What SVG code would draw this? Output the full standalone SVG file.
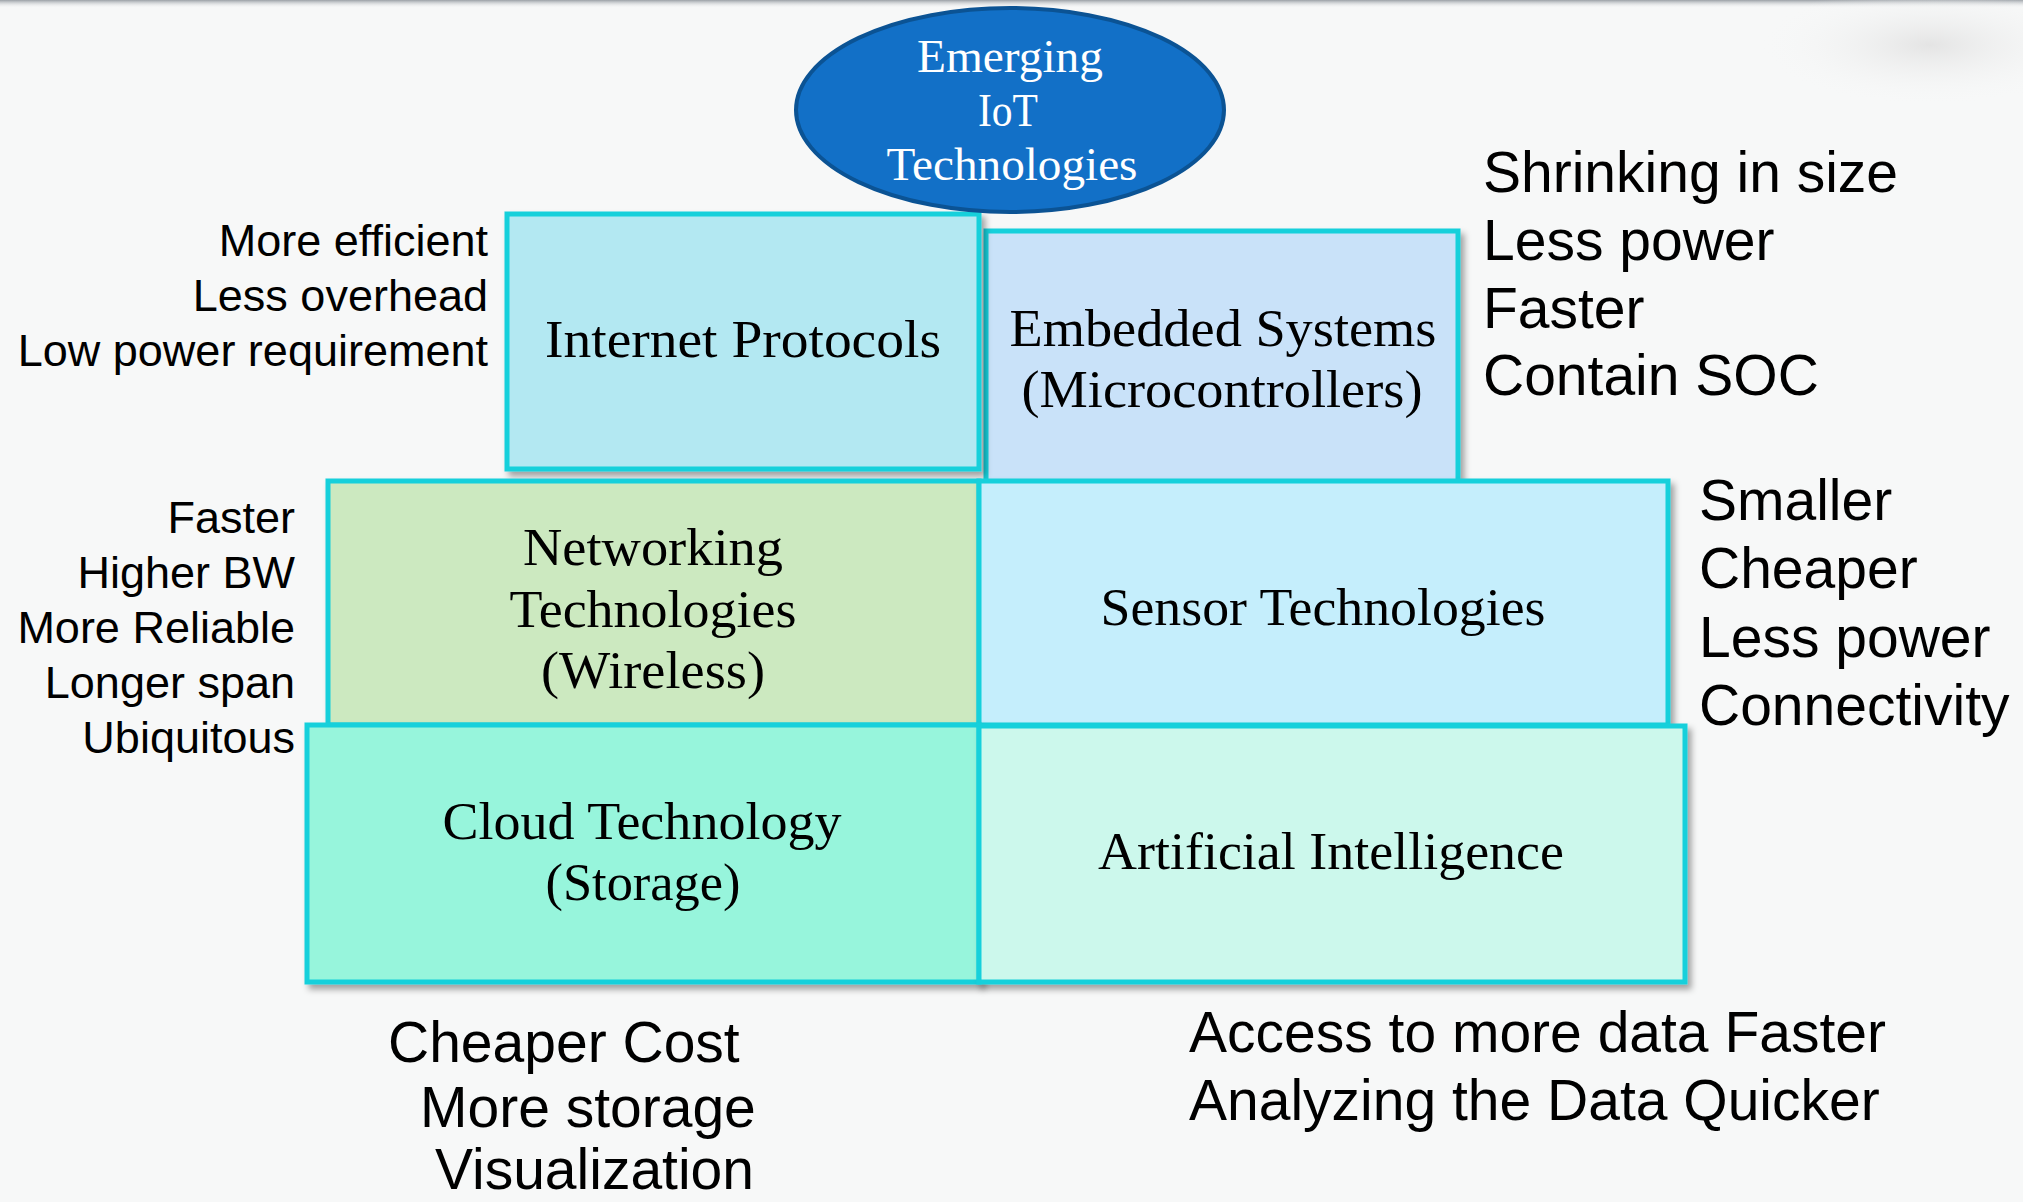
<svg xmlns="http://www.w3.org/2000/svg" width="2023" height="1202" viewBox="0 0 2023 1202">
<style>
.box{stroke:#12d0db;stroke-width:5}
.sans{font-family:"Liberation Sans",Arial,sans-serif;fill:#000}
.s45{font-size:45px}
.s56{font-size:57px}
.serif{font-family:"Liberation Serif","Times New Roman",serif;fill:#000;font-size:52px;text-anchor:middle}
.el{font-family:"Liberation Serif","Times New Roman",serif;fill:#fff;font-size:46px;text-anchor:middle}
.r{text-anchor:end}
</style>
<defs>
<filter id="sh" x="-5%" y="-5%" width="115%" height="115%">
<feDropShadow dx="4" dy="5" stdDeviation="3" flood-color="#000" flood-opacity="0.35"/>
</filter>
<linearGradient id="topg" x1="0" y1="0" x2="0" y2="1">
<stop offset="0" stop-color="#9aa0a6"/>
<stop offset="1" stop-color="#f7f8f8" stop-opacity="0"/>
</linearGradient>
<radialGradient id="corner" cx="0.5" cy="0.5" r="0.5">
<stop offset="0" stop-color="#e4e4e4"/>
<stop offset="1" stop-color="#f7f8f8" stop-opacity="0"/>
</radialGradient>
</defs>
<rect width="2023" height="1202" fill="#f7f8f8"/>
<rect width="2023" height="8" fill="url(#topg)"/>
<ellipse cx="1930" cy="45" rx="170" ry="60" fill="url(#corner)"/>

<g id="embedded-systems">
<rect class="box" x="986" y="231" width="472" height="252" fill="#c9e2f9" filter="url(#sh)"/>
<text class="serif" x="1223" y="346" textLength="427" lengthAdjust="spacingAndGlyphs">Embedded Systems</text>
<text class="serif" x="1222" y="407" textLength="401" lengthAdjust="spacingAndGlyphs">(Microcontrollers)</text>
</g>
<g id="internet-protocols">
<rect class="box" x="507" y="214" width="472" height="255" fill="#b3e8f2" filter="url(#sh)"/>
<text class="serif" x="743" y="357" textLength="396" lengthAdjust="spacingAndGlyphs">Internet Protocols</text>
</g>
<g id="emerging-iot">
<ellipse cx="1010" cy="110" rx="214" ry="102" fill="#1270c7" stroke="#0b5394" stroke-width="4"/>
<text class="el" x="1010" y="72" textLength="186" lengthAdjust="spacingAndGlyphs">Emerging</text>
<text class="el" x="1008" y="126" textLength="60" lengthAdjust="spacingAndGlyphs">IoT</text>
<text class="el" x="1012" y="180" textLength="251" lengthAdjust="spacingAndGlyphs">Technologies</text>
</g>
<g id="networking-technologies">
<rect class="box" x="328" y="481" width="651" height="244" fill="#cce9c0" filter="url(#sh)"/>
<text class="serif" x="653" y="565" textLength="260" lengthAdjust="spacingAndGlyphs">Networking</text>
<text class="serif" x="653" y="627" textLength="287" lengthAdjust="spacingAndGlyphs">Technologies</text>
<text class="serif" x="653" y="688" textLength="224" lengthAdjust="spacingAndGlyphs">(Wireless)</text>
</g>
<g id="sensor-technologies">
<rect class="box" x="979" y="481" width="689" height="244" fill="#c5eefc" filter="url(#sh)"/>
<text class="serif" x="1323" y="625" textLength="445" lengthAdjust="spacingAndGlyphs">Sensor Technologies</text>
</g>
<g id="cloud-technology">
<rect class="box" x="307" y="725" width="672" height="257" fill="#97f5dc" filter="url(#sh)"/>
<text class="serif" x="642" y="839" textLength="399" lengthAdjust="spacingAndGlyphs">Cloud Technology</text>
<text class="serif" x="643" y="900" textLength="195" lengthAdjust="spacingAndGlyphs">(Storage)</text>
</g>
<g id="artificial-intelligence">
<rect class="box" x="979" y="726" width="706" height="256" fill="#ccf8ec" filter="url(#sh)"/>
<text class="serif" x="1331" y="869" textLength="466" lengthAdjust="spacingAndGlyphs">Artificial Intelligence</text>
</g>

<g id="connectors"></g>

<g id="notes">
<text class="sans s45 r" x="488" y="256">More efficient</text>
<text class="sans s45 r" x="488" y="311">Less overhead</text>
<text class="sans s45 r" x="488" y="366">Low power requirement</text>

<text class="sans s45 r" x="295" y="533">Faster</text>
<text class="sans s45 r" x="295" y="588">Higher BW</text>
<text class="sans s45 r" x="295" y="643">More Reliable</text>
<text class="sans s45 r" x="295" y="698">Longer span</text>
<text class="sans s45 r" x="295" y="753">Ubiquitous</text>

<text class="sans s56" x="1483" y="192">Shrinking in size</text>
<text class="sans s56" x="1483" y="260">Less power</text>
<text class="sans s56" x="1483" y="328">Faster</text>
<text class="sans s56" x="1483" y="395">Contain SOC</text>

<text class="sans s56" x="1699" y="520">Smaller</text>
<text class="sans s56" x="1699" y="588">Cheaper</text>
<text class="sans s56" x="1699" y="657">Less power</text>
<text class="sans s56" x="1699" y="725">Connectivity</text>

<text class="sans s56" x="388" y="1062">Cheaper Cost</text>
<text class="sans s56" x="420" y="1127">More storage</text>
<text class="sans s56" x="435" y="1189">Visualization</text>

<text class="sans s56" x="1189" y="1052">Access to more data Faster</text>
<text class="sans s56" x="1189" y="1120">Analyzing the Data Quicker</text>
</g>
</svg>
